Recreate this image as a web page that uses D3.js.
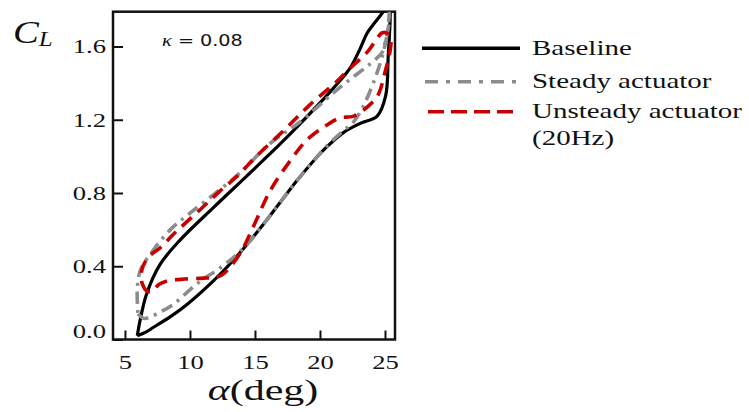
<!DOCTYPE html>
<html>
<head>
<meta charset="utf-8">
<script src="https://cdn.jsdelivr.net/npm/d3@7"></script>
<style>
  html, body { margin: 0; padding: 0; background: #fff; }
  svg { display: block; }
  text { font-family: "Liberation Serif", "DejaVu Serif", serif; fill: #111; }
</style>
</head>
<body>
<svg id="chart" width="749" height="412"></svg>
<script>
// Lift coefficient hysteresis loops, kappa = 0.08
const alphaTicks = [5, 10, 15, 20, 25];
const clTicks = [0.0, 0.4, 0.8, 1.2, 1.6];
const seriesNames = ["Baseline", "Steady actuator", "Unsteady actuator"];

// Baseline (closed loop: pitch-up branch then pitch-down branch)
const baselineAlpha = [5.95, 6.6, 7.2, 8.5, 9.75, 11.8, 13.3, 14.4, 15.6, 16.9, 18.2, 19.5, 20.5, 21.8, 23.1, 24.4, 25.05, 25.25, 25.4, 25.3, 24.95, 24.1, 23.6, 23.1, 22.3, 21.0, 18.5, 16.9, 14.4, 11.8, 9.2, 7.7, 6.67, 6.15, 5.95];
const baselineCL    = [0.02, 0.04, 0.067, 0.125, 0.19, 0.32, 0.43, 0.52, 0.625, 0.745, 0.865, 0.975, 1.05, 1.13, 1.18, 1.22, 1.33, 1.55, 1.78, 1.86, 1.80, 1.72, 1.67, 1.59, 1.48, 1.37, 1.18, 1.065, 0.895, 0.72, 0.54, 0.41, 0.25, 0.10, 0.02];

// Steady actuator
const steadyAlpha = [6.0, 6.5, 7.7, 8.7, 9.9, 11.0, 12.0, 13.3, 14.4, 15.6, 16.9, 18.2, 19.5, 20.5, 21.8, 22.6, 23.3, 24.1, 24.8, 25.2, 25.35, 25.3, 25.0, 24.8, 24.5, 23.6, 22.3, 21.0, 18.5, 16.15, 13.85, 11.8, 10.0, 8.5, 7.2, 6.2, 5.95, 6.0];
const steadyCL    = [0.14, 0.115, 0.15, 0.19, 0.265, 0.33, 0.375, 0.445, 0.52, 0.625, 0.745, 0.865, 0.975, 1.055, 1.14, 1.19, 1.27, 1.40, 1.55, 1.68, 1.80, 1.72, 1.62, 1.57, 1.545, 1.49, 1.42, 1.345, 1.19, 1.07, 0.91, 0.79, 0.69, 0.60, 0.49, 0.38, 0.28, 0.14];

// Unsteady actuator (20Hz)
const unsteadyAlpha = [6.3, 6.6, 7.05, 7.6, 8.3, 9.6, 11.0, 12.05, 12.6, 13.85, 14.9, 16.15, 17.7, 19.0, 20.5, 21.5, 22.6, 23.8, 24.5, 25.0, 25.35, 25.45, 25.2, 24.8, 24.3, 23.7, 22.0, 21.3, 19.2, 17.2, 15.1, 13.6, 12.3, 10.8, 8.8, 7.7, 6.8, 6.3, 6.3];
const unsteadyCL    = [0.31, 0.27, 0.26, 0.30, 0.32, 0.33, 0.335, 0.34, 0.36, 0.47, 0.62, 0.81, 0.975, 1.09, 1.17, 1.21, 1.22, 1.28, 1.34, 1.46, 1.56, 1.63, 1.67, 1.675, 1.635, 1.575, 1.46, 1.41, 1.28, 1.14, 1.0, 0.89, 0.81, 0.71, 0.58, 0.50, 0.45, 0.38, 0.31];

const svg = d3.select("#chart");
const frame = { left: 113, right: 395, top: 11.7, bottom: 339.5 };

const x = d3.scaleLinear().domain([4.08, 25.77]).range([frame.left, frame.right]);
const y = d3.scaleLinear().domain([0, 1.79]).range([frame.bottom, frame.top]);

const SX = 1.4; // horizontal stretch of the typeset labels

svg.append("defs").append("clipPath").attr("id", "plot-clip")
  .append("rect")
  .attr("x", frame.left).attr("y", frame.top)
  .attr("width", frame.right - frame.left).attr("height", frame.bottom - frame.top);

// Axes with inward ticks
const xAxis = svg.append("g")
  .attr("transform", `translate(0,${frame.bottom})`)
  .call(d3.axisBottom(x).tickValues(alphaTicks).tickSize(-9).tickPadding(0).tickFormat(d3.format("d")));
xAxis.select(".domain").remove();
xAxis.selectAll(".tick line").attr("stroke", "#111").attr("stroke-width", 2);
xAxis.selectAll(".tick text")
  .attr("font-size", 19).attr("font-family", "Liberation Serif")
  .attr("fill", "#1a1a1a")
  .attr("y", 30).attr("dy", 0)
  .attr("x", 0)
  .attr("transform", `scale(${SX},1)`);

const yAxis = svg.append("g")
  .attr("transform", `translate(${frame.left},0)`)
  .call(d3.axisLeft(y).tickValues(clTicks).tickSize(-10).tickPadding(0).tickFormat(d3.format(".1f")));
yAxis.select(".domain").remove();
yAxis.selectAll(".tick line").attr("stroke", "#111").attr("stroke-width", 2);
yAxis.selectAll(".tick text")
  .attr("font-size", 19).attr("font-family", "Liberation Serif")
  .attr("fill", "#1a1a1a")
  .attr("x", -7 / SX)
  .attr("dy", d => d === 0 ? "-0.1em" : "0.33em")
  .attr("transform", `scale(${SX},1)`);

// Plot frame
svg.append("rect")
  .attr("x", frame.left).attr("y", frame.top)
  .attr("width", frame.right - frame.left).attr("height", frame.bottom - frame.top)
  .attr("fill", "none").attr("stroke", "#111").attr("stroke-width", 2.5);

// Loops
const line = d3.line()
  .x(d => x(d[0])).y(d => y(d[1]))
  .curve(d3.curveCatmullRom.alpha(0.5));

const series = [
  { name: seriesNames[1], a: steadyAlpha, c: steadyCL, color: "#8c8c8c", width: 3.6, dash: "12,6,3,6" },
  { name: seriesNames[2], a: unsteadyAlpha, c: unsteadyCL, color: "#c80000", width: 3.6, dash: "13,8" },
  { name: seriesNames[0], a: baselineAlpha, c: baselineCL, color: "#000", width: 3.2, dash: null }
];

const plot = svg.append("g").attr("clip-path", "url(#plot-clip)");
// baseline first so the dashed series sit on top of it
[series[2], series[0], series[1]].forEach(s => {
  plot.append("path")
    .datum(s.a.map((a, i) => [a, s.c[i]]))
    .attr("d", line)
    .attr("fill", "none")
    .attr("stroke", s.color)
    .attr("stroke-width", s.width)
    .attr("stroke-linejoin", "round")
    .attr("stroke-dasharray", s.dash);
});

// Annotation
const kappa = svg.append("text")
  .attr("transform", `translate(162,46) scale(1.2,1)`)
  .attr("font-size", 16);
kappa.append("tspan").attr("font-family", "Liberation Serif").attr("font-style", "italic").attr("font-size", 17).text("κ");
kappa.append("tspan").attr("font-family", "DejaVu Sans").text(" = 0.08");

// Axis titles
const yl = svg.append("text")
  .attr("transform", `translate(13,43) scale(1.25,1)`)
  .attr("font-size", 31).attr("font-style", "italic");
yl.append("tspan").text("C");
yl.append("tspan").attr("font-size", 20).attr("dy", 3).text("L");

const xl = svg.append("text")
  .attr("transform", `translate(263,400) scale(${SX},1)`)
  .attr("text-anchor", "middle")
  .attr("font-size", 30);
xl.append("tspan").attr("font-style", "italic").text("α");
xl.append("tspan").text("(deg)");

// Legend
const legendRows = [
  { s: series[2], y: 48.3, x0: 422, labelY: 55, lines: [seriesNames[0]], dash: null },
  { s: series[0], y: 81.7, x0: 425, labelY: 88.3, lines: [seriesNames[1]], dash: "13,8,4,8" },
  { s: series[1], y: 111.7, x0: 428, labelY: 118.3, lines: [seriesNames[2], "(20Hz)"], dash: "16,7" }
];
const legend = svg.append("g");
legendRows.forEach(r => {
  legend.append("line")
    .attr("x1", r.x0).attr("x2", 520).attr("y1", r.y).attr("y2", r.y)
    .attr("stroke", r.s.color).attr("stroke-width", 3.6)
    .attr("stroke-dasharray", r.dash);
  r.lines.forEach((t, i) => {
    legend.append("text")
      .attr("transform", `translate(532,${r.labelY + i * 27}) scale(1.45,1)`)
      .attr("font-size", 20)
      .text(t);
  });
});
</script>
</body>
</html>
